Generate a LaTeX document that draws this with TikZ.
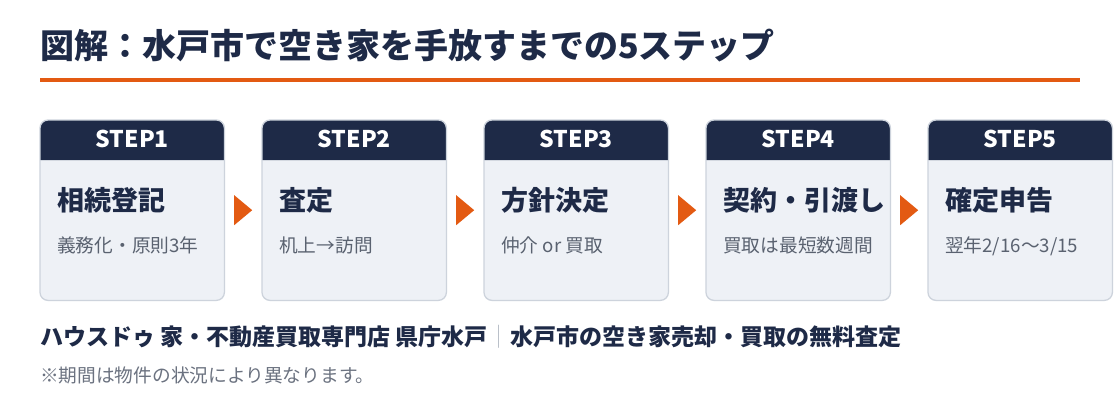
\documentclass[tikz,border=0pt]{standalone}
\usepackage{fontspec}
\setmainfont{Noto Sans CJK JP}
\usetikzlibrary{calc}
\definecolor{navy}{HTML}{1E2A47}
\definecolor{accent}{HTML}{E35A12}
\definecolor{cardbg}{HTML}{EEF1F6}
\definecolor{cardline}{HTML}{CDD3DC}
\definecolor{subgray}{HTML}{5A6270}
\definecolor{notegray}{HTML}{6B7280}
\definecolor{sepgray}{HTML}{B8BEC8}
\tikzset{
  card/.style={anchor=north west, minimum width=184pt, minimum height=180pt, inner sep=0pt, fill=cardbg, rounded corners=8pt},
  steplabel/.style={anchor=base, inner sep=0pt, text=white, font=\fontsize{23}{27}\selectfont\bfseries},
  cardtitle/.style={anchor=base west, inner sep=0pt, text=navy, font=\fontsize{27}{31}\selectfont\bfseries},
  cardsub/.style={anchor=base west, inner sep=0pt, text=subgray, font=\fontsize{18.7}{22}\selectfont},
  flowarrow/.style={fill=accent},
}
\begin{document}
\begin{tikzpicture}[x=1pt,y=-1pt]
\useasboundingbox[fill=white] (0,0) rectangle (1120,420);
% title
\node[anchor=base west, inner sep=0pt, text=navy, font=\fontsize{34}{40}\selectfont\bfseries] (title) at (40,59) {図解：水戸市で空き家を手放すまでの5ステップ};
\coordinate (ruleL) at (40,80);
\coordinate (ruleR) at (1080,80);
\draw[accent, line width=4pt] (ruleL) -- (ruleR);
% cards
\foreach \i/\x/\t/\s in {1/40/相続登記/義務化・原則3年, 2/262/査定/机上→訪問, 3/484/方針決定/仲介 or 買取, 4/706/契約・引渡し/買取は最短数週間, 5/928/確定申告/{翌年2/16〜3/15}}{
  \node[card] (b\i) at (\x,120) {};
  \fill[navy] ([yshift=-40pt]b\i.north west) [rounded corners=8pt] -- (b\i.north west) -- (b\i.north east) [sharp corners] -- ([yshift=-40pt]b\i.north east) -- cycle;
  \draw[cardline, line width=1.3pt, rounded corners=8pt] (b\i.north west) rectangle (b\i.south east);
  \node[steplabel] (h\i) at ($(b\i.north)+(0,27.5)$) {STEP\i};
  \node[cardtitle] (t\i) at ($(b\i.north west)+(17,90)$) {\t};
  \node[cardsub] (s\i) at ($(b\i.north west)+(17,132.5)$) {\s};
}
% arrows between cards
\foreach \a/\b in {1/2,2/3,3/4,4/5}{
  \coordinate (m\a) at ($(b\a.east)!0.5!(b\b.west)$);
  \fill[flowarrow] ($(m\a)+(-9,-15)$) -- ($(m\a)+(9,0)$) -- ($(m\a)+(-9,15)$) -- cycle;
}
% footer
\node[anchor=base west, inner sep=0pt, text=navy, font=\fontsize{23}{27}\selectfont\bfseries] (footer) at (40,345) {ハウスドゥ 家・不動産買取専門店 県庁水戸{\color{sepgray}\mdseries ｜}水戸市の空き家売却・買取の無料査定};
\node[anchor=base west, inner sep=0pt, text=notegray, font=\fontsize{18.7}{22}\selectfont] (note) at (40,382) {※期間は物件の状況により異なります。};
\end{tikzpicture}
\end{document}
